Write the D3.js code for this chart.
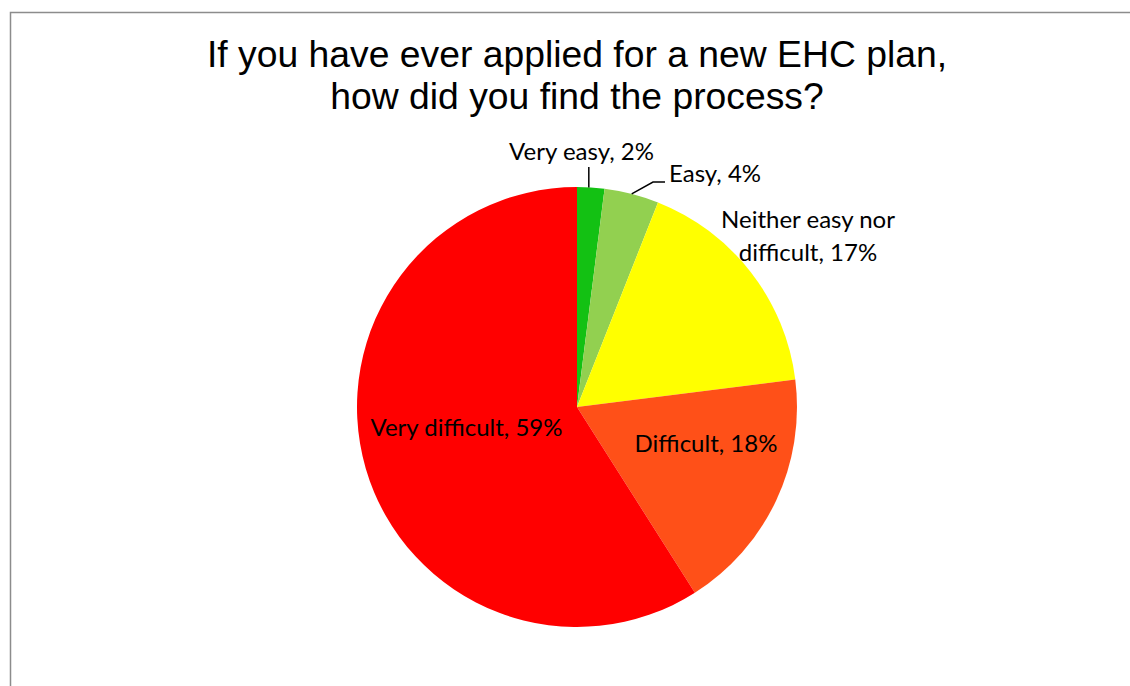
<!DOCTYPE html>
<html>
<head>
<meta charset="utf-8">
<script src="https://cdn.jsdelivr.net/npm/d3@7"></script>
<style>
  html, body { margin: 0; padding: 0; background: #fff; }
  svg { display: block; }
</style>
</head>
<body>
<svg id="chart" width="1130" height="686"></svg>
<script>
// Survey responses
const categories = ["Very easy", "Easy", "Neither easy nor difficult", "Difficult", "Very difficult"];
const values = [2, 4, 17, 18, 59];
const colors = ["#13C113", "#92D050", "#FFFF00", "#FF5018", "#FF0000"];

// Label text lines and placement (baseline, relative to pie centre)
const labelLines = [
  ["Very easy, 2%"],
  ["Easy, 4%"],
  ["Neither easy nor", "difficult, 17%"],
  ["Difficult, 18%"],
  ["Very difficult, 59%"]
];
const labelPos = [
  { dx: 4.5, dy: -247, anchor: "middle" },
  { dx: 92, dy: -225, anchor: "start" },
  { dx: 231, dy: -179, anchor: "middle" },
  { dx: 129, dy: 45, anchor: "middle" },
  { dx: -110.5, dy: 29, anchor: "middle" }
];

const svg = d3.select("#chart");
const cx = 577, cy = 407, r = 220;

// Outer frame
svg.append("path")
  .attr("d", "M10.5,700 L10.5,12.5 L1140,12.5")
  .attr("fill", "none")
  .attr("stroke", "#8c8c8c")
  .attr("stroke-width", 1.5);

// Title
const title = svg.append("text")
  .attr("text-anchor", "middle")
  .attr("font-family", "'Liberation Sans', Arial, sans-serif")
  .attr("font-size", 37.3)
  .attr("fill", "#000");
title.append("tspan").attr("x", 577).attr("y", 67).text("If you have ever applied for a new EHC plan,");
title.append("tspan").attr("x", 577).attr("y", 109).text("how did you find the process?");

const data = categories.map((c, i) => ({ category: c, value: values[i], color: colors[i], lines: labelLines[i], pos: labelPos[i] }));

const pie = d3.pie().value(d => d.value).sort(null);
const arc = d3.arc().innerRadius(0).outerRadius(r);
const arcs = pie(data);

const g = svg.append("g").attr("transform", `translate(${cx},${cy})`);

g.selectAll("path.slice")
  .data(arcs)
  .join("path")
  .attr("class", "slice")
  .attr("d", arc)
  .attr("fill", d => d.data.color);

// Leader lines for the two small slices
const edge = (a, rad) => [Math.sin(a) * rad, -Math.cos(a) * rad];
const mid = d => (d.startAngle + d.endAngle) / 2;

{
  const d = arcs[0];
  const p = edge(mid(d), r);
  g.append("path")
    .attr("d", `M${p[0] - 2},${p[1]} L${p[0] - 2},${-r - 20}`)
    .attr("stroke", "#000").attr("stroke-width", 1.5).attr("fill", "none");
}
{
  const d = arcs[1];
  const p = edge(mid(d), r);
  g.append("path")
    .attr("d", `M${p[0]},${p[1]} L76,-225 L88,-225`)
    .attr("stroke", "#000").attr("stroke-width", 1.5).attr("fill", "none");
}

// Data labels
const labels = g.selectAll("text.label")
  .data(arcs)
  .join("text")
  .attr("class", "label")
  .attr("font-family", "Lato, 'Open Sans', sans-serif")
  .attr("font-size", 24)
  .attr("fill", "#000")
  .attr("text-anchor", d => d.data.pos.anchor);

labels.each(function(d) {
  const t = d3.select(this);
  d.data.lines.forEach((line, i) => {
    t.append("tspan")
      .attr("x", d.data.pos.dx)
      .attr("y", d.data.pos.dy + i * 33)
      .text(line);
  });
});
</script>
</body>
</html>
